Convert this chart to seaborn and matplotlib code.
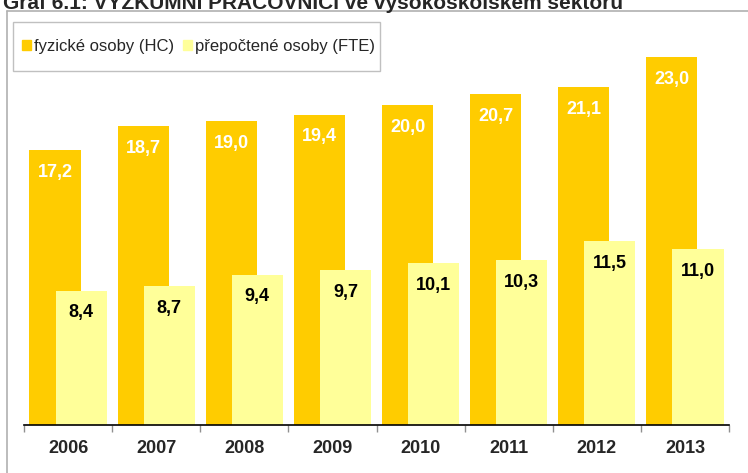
import matplotlib
matplotlib.use('Agg')
import matplotlib.pyplot as plt
from matplotlib.lines import Line2D
from matplotlib.patches import Patch, Rectangle
import seaborn as sns
import numpy as np

years = ['2006', '2007', '2008', '2009', '2010', '2011', '2012', '2013']
hc = [17.2, 18.7, 19.0, 19.4, 20.0, 20.7, 21.1, 23.0]
fte = [8.4, 8.7, 9.4, 9.7, 10.1, 10.3, 11.5, 11.0]
series_names = ['fyzické osoby (HC)', 'přepočtené osoby (FTE)']
title = 'Graf 6.1: VÝZKUMNÍ PRACOVNÍCI ve vysokoškolském sektoru'

c_hc = '#FFCC00'
c_fte = '#FFFF99'

sns.set_style('white')
plt.rcParams['font.family'] = ['Liberation Sans', 'DejaVu Sans']

fig = plt.figure(figsize=(7.48, 4.73), dpi=100)
W, H = 748, 473
ax = fig.add_axes([24 / W, (H - 425) / H, (729 - 24) / W, 400 / H])

pos = np.arange(len(years))
sns.barplot(x=pos - 0.148, y=hc, native_scale=True, width=0.58, color=c_hc,
            saturation=1, linewidth=0, ax=ax)
sns.barplot(x=pos + 0.148, y=fte, native_scale=True, width=0.58, color=c_fte,
            saturation=1, linewidth=0, ax=ax)

# popisky hodnot
for x, v in zip(pos - 0.148, hc):
    ax.annotate(f'{v:.1f}'.replace('.', ','), (x, v), xytext=(0, -16),
                textcoords='offset points', ha='center', va='center',
                color='white', fontsize=13, fontweight='bold')
for x, v in zip(pos + 0.148, fte):
    ax.annotate(f'{v:.1f}'.replace('.', ','), (x, v), xytext=(0, -16),
                textcoords='offset points', ha='center', va='center',
                color='black', fontsize=13, fontweight='bold')

ax.set_xlim(-0.5, len(years) - 0.5)
ax.set_ylim(0, 25)
ax.set_yticks([])
ax.set_xticks(pos)
ax.set_xticklabels(years, fontsize=13, fontweight='bold')
ax.set_xticks(np.arange(len(years) + 1) - 0.5, minor=True)
ax.tick_params(axis='x', which='major', length=0, pad=11)
ax.tick_params(axis='x', which='minor', length=5, color='#909090', width=1,
               bottom=True)
for s in ['top', 'right', 'left']:
    ax.spines[s].set_visible(False)
ax.spines['bottom'].set_color('black')
ax.spines['bottom'].set_linewidth(1.2)
ax.set_xlabel('')
ax.set_ylabel('')

# rámeček grafu
fig.add_artist(Line2D([7 / W, 7 / W], [0, 1 - 11 / H], color='#b0b0b0', lw=1.2))
fig.add_artist(Line2D([7 / W, 1], [1 - 11 / H, 1 - 11 / H], color='#b0b0b0', lw=1.2))

# legenda - rámeček zvlášť
fig.add_artist(Rectangle((13 / W, 1 - 71 / H), (380 - 13) / W, 49 / H,
                         transform=fig.transFigure, facecolor='white',
                         edgecolor='#c0c0c0', lw=1.0))
handles = [Patch(color=c_hc), Patch(color=c_fte)]
fig.legend(handles, series_names, loc='center left',
           bbox_to_anchor=(22 / W, 1 - 46.5 / H), ncol=2, fontsize=12,
           frameon=False, handlelength=0.55, handleheight=0.55,
           handletextpad=0.15, columnspacing=0.55, borderpad=0,
           borderaxespad=0)

# nadpis (oříznutý nahoře, stejně jako v předloze)
fig.text(3 / W, 1 - 9 / H, title, fontsize=15, fontweight='bold',
         ha='left', va='baseline')

fig.savefig('out.png', dpi=100)
